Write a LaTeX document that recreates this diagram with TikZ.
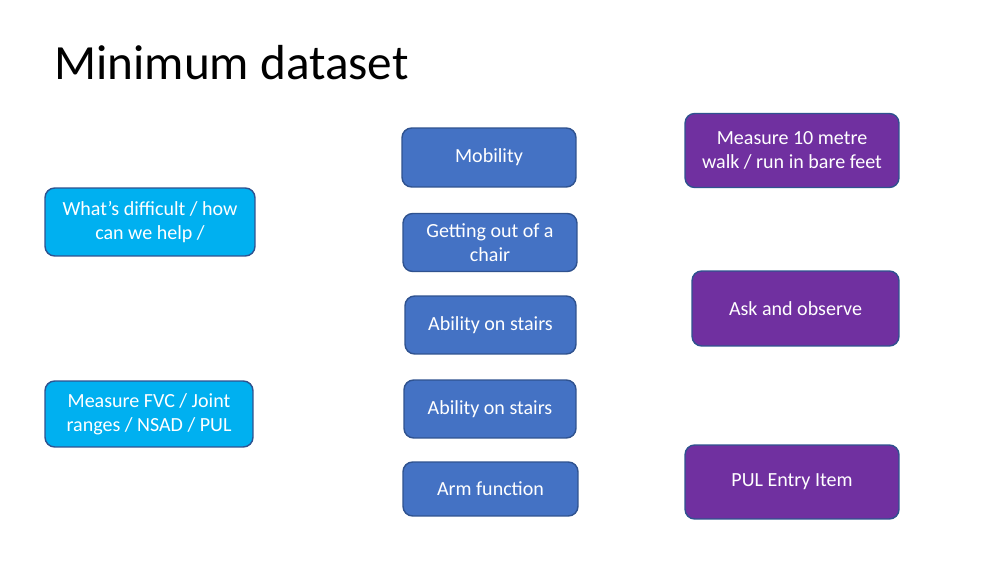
\documentclass[tikz,border=0pt]{standalone}
\usepackage{fontspec}
\setmainfont{Carlito}
\usepackage{xcolor}
\usepackage{tikz}
\definecolor{skyfill}{HTML}{00B0F0}
\definecolor{bluefill}{HTML}{4472C4}
\definecolor{purplefill}{HTML}{7030A0}
\definecolor{boxline}{HTML}{2F528F}
\begin{document}
\begin{tikzpicture}[x=0.02cm, y=-0.02cm,
  box/.style={draw=boxline, line width=0.8pt, rounded corners=5.5pt, text=white,
    align=center, inner sep=2pt, font=\fontsize{11.4}{13.8}\selectfont},
  askbox/.style={box, fill=skyfill},
  itembox/.style={box, fill=bluefill},
  measbox/.style={box, fill=purplefill}]
\useasboundingbox[fill=white] (0,0) rectangle (1000,564);
\node[anchor=base west, inner sep=0pt, font=\fontsize{28}{33}\selectfont] (title) at (54,80) {Minimum dataset};

% left column
\node[askbox, minimum width=4.2cm, minimum height=1.36cm] (diff) at (150,222) {What’s difficult / how\\can we help /};
\node[askbox, minimum width=4.16cm, minimum height=1.32cm] (fvc) at (149,414) {Measure FVC / Joint\\ranges / NSAD / PUL};

% middle column
\node[itembox, minimum width=3.48cm, minimum height=1.18cm] (mob) at (489,157.5) {Mobility};
\node[itembox, minimum width=3.48cm, minimum height=1.16cm] (chair) at (490,242.5) {Getting out of a\\chair};
\node[itembox, minimum width=3.42cm, minimum height=1.16cm] (stairsa) at (490.5,325) {Ability on stairs};
\node[itembox, minimum width=3.44cm, minimum height=1.16cm] (stairsb) at (490,409) {Ability on stairs};
\node[itembox, minimum width=3.5cm, minimum height=1.08cm] (arm) at (490.5,489) {Arm function};

% right column
\node[measbox, minimum width=4.28cm, minimum height=1.48cm] (walk) at (792,150.5) {Measure 10 metre\\walk / run in bare feet};
\node[measbox, minimum width=4.14cm, minimum height=1.5cm] (ask) at (795.5,308.5) {Ask and observe};
\node[measbox, minimum width=4.28cm, minimum height=1.48cm] (pul) at (792,482) {PUL Entry Item};
\end{tikzpicture}
\end{document}
